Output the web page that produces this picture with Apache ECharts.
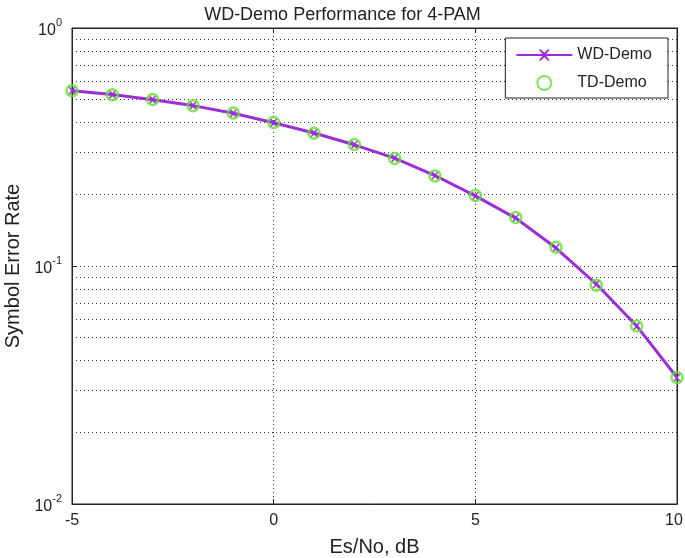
<!DOCTYPE html>
<html>
<head>
<meta charset="utf-8">
<script src="https://cdn.jsdelivr.net/npm/echarts@6/dist/echarts.min.js"></script>
<style>html,body{margin:0;padding:0;background:#fff;}#c{width:685px;height:558px;}</style>
</head>
<body>
<div id="c"></div>
<script>
var esno = [-5, -4, -3, -2, -1, 0, 1, 2, 3, 4, 5, 6, 7, 8, 9, 10];
var wdDemo = [0.545, 0.525, 0.500, 0.472, 0.438, 0.400, 0.362, 0.323, 0.284, 0.240, 0.197, 0.159, 0.119, 0.084, 0.056, 0.034];
var tdDemo = [0.545, 0.524, 0.501, 0.471, 0.439, 0.401, 0.361, 0.324, 0.283, 0.239, 0.198, 0.160, 0.120, 0.083, 0.056, 0.034];
var xTicks = [-5, 0, 5, 10];
var minorGrid = [0.02, 0.03, 0.04, 0.05, 0.06, 0.07, 0.08, 0.09, 0.2, 0.3, 0.4, 0.5, 0.6, 0.7, 0.8, 0.9];

var FONT = 'Liberation Sans';
var chart = echarts.init(document.getElementById('c'));
var gridLine = {show: true, lineStyle: {color: '#333', type: [1, 3], width: 1}};
chart.setOption({
  animation: false,
  backgroundColor: '#fff',
  textStyle: {fontFamily: FONT},
  title: {
    text: 'WD-Demo Performance for 4-PAM', left: 'center', top: 1,
    textStyle: {fontFamily: FONT, fontSize: 18, fontWeight: 'normal', color: '#222'}
  },
  legend: {
    orient: 'vertical', right: 17, top: 38, z: 20,
    backgroundColor: '#fff', borderColor: '#222', borderWidth: 1,
    padding: [8, 16, 6, 10], itemGap: 10, itemWidth: 56, itemHeight: 14,
    textStyle: {fontFamily: FONT, fontSize: 16, color: '#222', lineHeight: 18},
    data: ['WD-Demo', 'TD-Demo']
  },
  grid: {left: 72, right: 8, top: 28, bottom: 54, outerBoundsMode: 'none', containLabel: false,
    show: true, borderColor: '#222', borderWidth: 1},
  xAxis: [{
    type: 'value', min: -5, max: 10, interval: 5,
    name: 'Es/No, dB', nameLocation: 'middle', nameGap: 33,
    nameTextStyle: {fontFamily: FONT, fontSize: 20, color: '#222'},
    axisLine: {onZero: false, lineStyle: {color: '#222'}},
    axisTick: {inside: true, length: 5, lineStyle: {color: '#222'}},
    axisLabel: {fontFamily: FONT, fontSize: 16, color: '#222', margin: 9, hideOverlap: false,
      formatter: function (v) {
        if (xTicks.indexOf(v) < 0) return '';
        return v === xTicks[xTicks.length - 1] ? '{r|' + v + '}' : String(v);
      },
      rich: {r: {fontFamily: FONT, fontSize: 16, color: '#222', padding: [0, 6, 0, 0]}}
    },
    splitLine: gridLine
  }, {
    type: 'value', min: -5, max: 10, interval: 5, position: 'top',
    axisLine: {show: true, onZero: false, lineStyle: {color: '#222'}},
    axisTick: {inside: true, length: 5, lineStyle: {color: '#222'}},
    axisLabel: {show: false}, splitLine: {show: false}
  }],
  yAxis: [{
    type: 'log', min: 0.01, max: 1, logBase: 10,
    name: 'Symbol Error Rate', nameLocation: 'middle', nameGap: 48,
    nameTextStyle: {fontFamily: FONT, fontSize: 20, color: '#222'},
    axisLine: {show: true, onZero: false, lineStyle: {color: '#222'}},
    axisTick: {inside: true, length: 5, lineStyle: {color: '#222'}},
    axisLabel: {
      fontFamily: FONT, fontSize: 16, color: '#222', margin: 10,
      formatter: function (v) {
        var e = Math.round(Math.log10(v));
        return '{b|10}{s|' + e + '}';
      },
      rich: {
        b: {fontFamily: FONT, fontSize: 16, color: '#222', verticalAlign: 'bottom'},
        s: {fontFamily: FONT, fontSize: 11, color: '#222', verticalAlign: 'top', padding: [0, 0, 10, 0]}
      }
    },
    splitLine: gridLine
  }, {
    type: 'log', min: 0.01, max: 1, logBase: 10, position: 'right',
    axisLine: {show: true, onZero: false, lineStyle: {color: '#222'}},
    axisTick: {inside: true, length: 5, lineStyle: {color: '#222'}},
    axisLabel: {show: false}, splitLine: {show: false}
  }],
  series: [{
    name: 'WD-Demo', type: 'line',
    data: esno.map(function (x, i) { return [x, wdDemo[i]]; }),
    symbol: 'path://M0,0L2,0L5,3L8,0L10,0L6,5L10,10L8,10L5,7L2,10L0,10L4,5Z',
    symbolSize: 8, showSymbol: true,
    lineStyle: {color: '#9a2fd6', width: 3},
    itemStyle: {color: '#9a2fd6'},
    z: 3,
    markLine: {
      silent: true, symbol: 'none', label: {show: false},
      lineStyle: {color: '#333', type: [1, 3], width: 1},
      data: minorGrid.map(function (v) { return {yAxis: v}; }),
      z: 1
    }
  }, {
    name: 'TD-Demo', type: 'scatter',
    data: esno.map(function (x, i) { return [x, tdDemo[i]]; }),
    symbol: 'circle', symbolSize: 11,
    itemStyle: {color: 'rgba(0,0,0,0)', borderColor: '#63e030', borderWidth: 2.5},
    z: 4
  }]
});
</script>
</body>
</html>
